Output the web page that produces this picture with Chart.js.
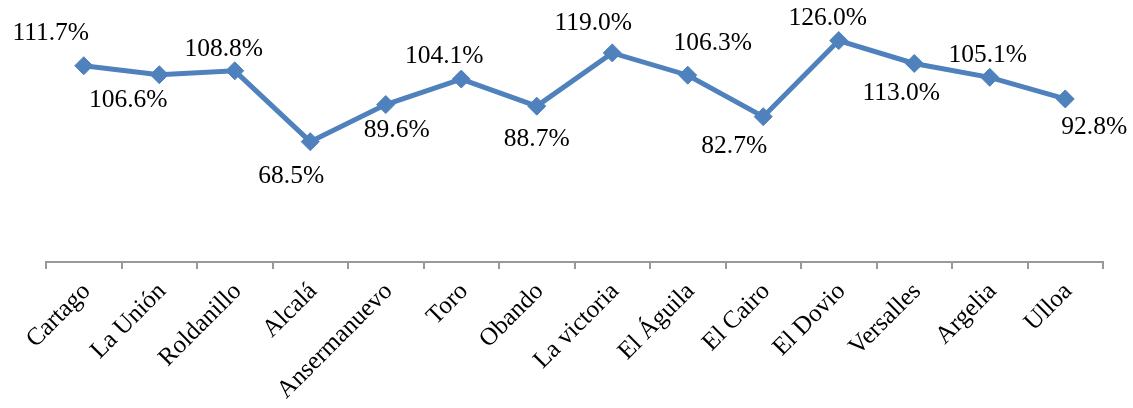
<!DOCTYPE html>
<html>
<head>
<meta charset="utf-8">
<script src="https://cdn.jsdelivr.net/npm/chart.js@4/dist/chart.umd.min.js"></script>
<style>
  html, body { margin: 0; padding: 0; background: #fff; }
  #wrap { width: 1133px; height: 408px; }
</style>
</head>
<body>
<div id="wrap"><canvas id="c" width="1133" height="408"></canvas></div>
<script>
const categories = ["Cartago", "La Unión", "Roldanillo", "Alcalá", "Ansermanuevo", "Toro", "Obando",
  "La victoria", "El Águila", "El Cairo", "El Dovio", "Versalles", "Argelia", "Ulloa"];
const values = [111.7, 106.6, 108.8, 68.5, 89.6, 104.1, 88.7, 119.0, 106.3, 82.7, 126.0, 113.0, 105.1, 92.8];
const yMin = 0;
const yMax = 140;

// label placement (pixel offsets from each point), a style setting
const labelOffsets = [[-33,-32],[-31,26],[-11,-22],[-19,35],[11,26],[-17,-23],[0,33],
  [-19,-30],[25,-32],[-29,30],[-11,-22],[-13,30],[-2,-22],[29,28]];

const FONT = "'Liberation Serif', 'Times New Roman', serif";
const BLUE = '#4F81BD';

const dataLabels = {
  id: 'dataLabels',
  afterDatasetsDraw(chart) {
    const ctx = chart.ctx;
    const meta = chart.getDatasetMeta(0);
    ctx.save();
    ctx.font = '25.5px ' + FONT;
    ctx.fillStyle = '#000';
    ctx.textAlign = 'center';
    ctx.textBaseline = 'middle';
    meta.data.forEach((pt, i) => {
      const off = labelOffsets[i];
      ctx.fillText(values[i].toFixed(1) + '%', pt.x + off[0], pt.y + off[1]);
    });
    ctx.restore();
  }
};

new Chart(document.getElementById('c'), {
  type: 'line',
  data: {
    labels: categories,
    datasets: [{
      data: values,
      borderColor: BLUE,
      backgroundColor: BLUE,
      borderWidth: 5,
      tension: 0,
      pointStyle: 'rectRot',
      pointRadius: 9,
      pointHoverRadius: 9,
      pointBorderWidth: 1,
      pointBorderColor: BLUE,
      pointBackgroundColor: BLUE,
      fill: false
    }]
  },
  options: {
    responsive: false,
    animation: false,
    events: [],
    layout: { padding: { top: 16, left: 46, right: 30, bottom: 0 } },
    plugins: { legend: { display: false }, tooltip: { enabled: false } },
    scales: {
      x: {
        type: 'category',
        offset: true,
        grid: { offset: true, drawOnChartArea: false, drawTicks: true, tickLength: 7, color: '#999', lineWidth: 2 },
        border: { display: true, color: '#999', width: 2 },
        ticks: {
          autoSkip: false, minRotation: 45, maxRotation: 45,
          color: '#000', padding: 8, labelOffset: 3,
          font: { family: FONT, size: 25 }
        },
        afterFit(scale) { scale.height = 146; }
      },
      y: { display: false, min: yMin, max: yMax }
    }
  },
  plugins: [dataLabels]
});
</script>
</body>
</html>
